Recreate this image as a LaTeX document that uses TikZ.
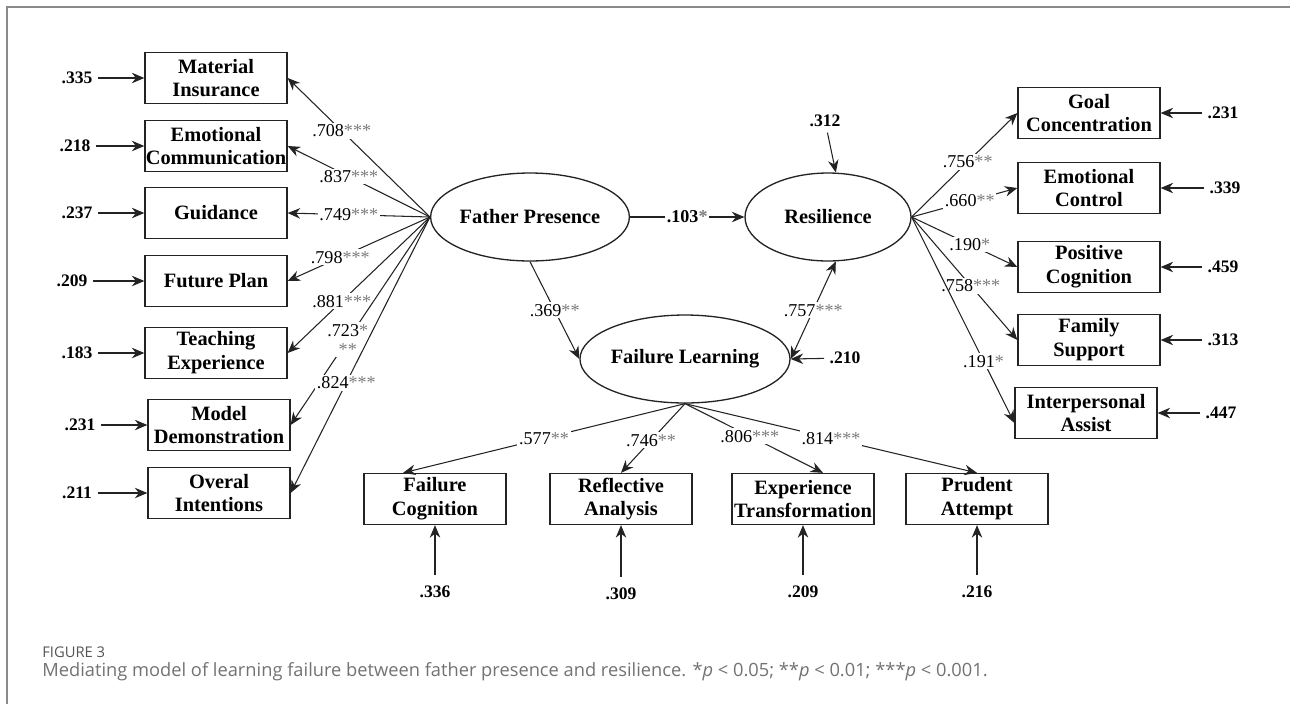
\documentclass[tikz,border=0pt]{standalone}
\usepackage{fontspec}
\setmainfont{Liberation Serif}
\newfontfamily\capfont{Open Sans}
\usepackage{xcolor}
\usetikzlibrary{arrows.meta,calc,shapes.geometric}
\definecolor{linedark}{HTML}{232323}
\definecolor{stargray}{HTML}{7C7C7C}
\definecolor{framegray}{HTML}{8A8A8A}
\definecolor{labelgray}{HTML}{555555}
\definecolor{capgray}{HTML}{727272}
\newcommand{\sig}[1]{\textcolor{stargray}{#1}}

\begin{document}
\begin{tikzpicture}[
  x=0.02cm,
  y=-0.02cm,
  obsbox/.style={draw=linedark, line width=0.75pt, minimum width=2.84cm,
    minimum height=1.02cm, inner sep=0pt, align=center,
    font=\fontsize{11.6}{13.6}\selectfont\bfseries},
  latent/.style={ellipse, draw=linedark, line width=0.75pt,
    minimum width=3.32cm, minimum height=1.76cm, inner sep=0pt,
    font=\fontsize{11.6}{13.6}\selectfont\bfseries},
  errval/.style={inner sep=3pt, font=\fontsize{10}{12}\selectfont\bfseries},
  coef/.style={fill=white, inner sep=1pt, align=center,
    font=\fontsize{10.3}{11}\selectfont},
  load/.style={-{Stealth[length=2.5mm,width=2.1mm]}, draw=linedark, line width=0.6pt},
  twoway/.style={{Stealth[length=2.5mm,width=2.1mm]}-{Stealth[length=2.5mm,width=2.1mm]},
    draw=linedark, line width=0.6pt}
]
\useasboundingbox (0,0) rectangle (1290,704);

% Frame
\draw[draw=framegray, line width=0.6pt] (7,704) -- (7,7) -- (1290,7);

% Latent variables
\node[latent] (father) at (530,217) {Father Presence};
\node[latent] (resil) at (828,217) {Resilience};
\node[latent] (faillearn) at (685,359) {Failure Learning};

% Father presence indicators
\node[obsbox] (material) at (216,78) {Material\\Insurance};
\node[obsbox] (emocomm) at (216,146) {Emotional\\Communication};
\node[obsbox] (guidance) at (216,213) {Guidance};
\node[obsbox] (future) at (216,281) {Future Plan};
\node[obsbox] (teaching) at (216,353) {Teaching\\Experience};
\node[obsbox] (model) at (219,425) {Model\\Demonstration};
\node[obsbox] (overal) at (219,493) {Overal\\Intentions};

\node[errval] (e335) at (77,78) {.335};
\node[errval] (e218) at (75,146) {.218};
\node[errval] (e237) at (77,213) {.237};
\node[errval] (e209a) at (72,281) {.209};
\node[errval] (e183) at (77,353) {.183};
\node[errval] (e231a) at (80,425) {.231};
\node[errval] (e211) at (77,493) {.211};

\draw[load] (e335) -- (material);
\draw[load] (e218) -- (emocomm);
\draw[load] (e237) -- (guidance);
\draw[load] (e209a) -- (future);
\draw[load] (e183) -- (teaching);
\draw[load] (e231a) -- (model);
\draw[load] (e211) -- (overal);

\draw[load] (father.west) -- node[coef, pos=0.62] {.708\sig{***}} (material.east);
\draw[load] (father.west) -- node[coef, pos=0.57] {.837\sig{***}} (emocomm.east);
\draw[load] (father.west) -- node[coef, pos=0.57] {.749\sig{***}} (guidance.east);
\draw[load] (father.west) -- node[coef, pos=0.63] {.798\sig{***}} (future.east);
\draw[load] (father.west) -- node[coef, pos=0.62] {.881\sig{***}} (teaching.east);
\draw[load] (father.west) -- node[coef, pos=0.59] {.723\sig{*}\\\sig{**}} (model.east);
\draw[load] (father.west) -- node[coef, pos=0.6] {.824\sig{***}} (overal.east);

% Resilience indicators
\node[obsbox] (goal) at (1089,113) {Goal\\Concentration};
\node[obsbox] (emoctrl) at (1089,188) {Emotional\\Control};
\node[obsbox] (positive) at (1089,267) {Positive\\Cognition};
\node[obsbox] (family) at (1089,340) {Family\\Support};
\node[obsbox] (interp) at (1086,413) {Interpersonal\\Assist};

\node[errval] (e231b) at (1223,113) {.231};
\node[errval] (e339) at (1225,188) {.339};
\node[errval] (e459) at (1223,267) {.459};
\node[errval] (e313) at (1223,340) {.313};
\node[errval] (e447) at (1221,413) {.447};

\draw[load] (e231b) -- (goal);
\draw[load] (e339) -- (emoctrl);
\draw[load] (e459) -- (positive);
\draw[load] (e313) -- (family);
\draw[load] (e447) -- (interp);

\draw[load] (resil.east) -- node[coef, pos=0.53] {.756\sig{**}} (goal.west);
\draw[load] (resil.east) -- node[coef, pos=0.55] {.660\sig{**}} (emoctrl.west);
\draw[load] (resil.east) -- node[coef, pos=0.55] {.190\sig{*}} (positive.west);
\draw[load] (resil.east) -- node[coef, pos=0.56] {.758\sig{***}} (family.west);
\draw[load] (resil.east) -- node[coef, pos=0.7] {.191\sig{*}} ([yshift=-0.2cm]interp.west);

% Structural paths
\draw[load] (father.east) -- node[coef, pos=0.5] {\bfseries .103\sig{*}} (resil.west);
\draw[load] (father.south) -- node[coef, pos=0.5] {.369\sig{**}} (faillearn.west);
\draw[twoway] (faillearn.east) -- node[coef, pos=0.5] {.757\sig{***}} (resil.-80);

\node[errval] (e312) at (825,121) {.312};
\node[errval] (e210) at (845,358) {.210};
\draw[load] (e312) -- (resil.80);
\draw[load] (e210) -- (faillearn.east);

% Failure learning indicators
\node[obsbox] (failcog) at (435,499) {Failure\\Cognition};
\node[obsbox] (reflect) at (621,499) {Reflective\\Analysis};
\node[obsbox] (exptrans) at (803,499) {Experience\\Transformation};
\node[obsbox] (prudent) at (977,499) {Prudent\\Attempt};

\draw[load] (faillearn.south) -- node[coef, pos=0.5] {.577\sig{**}} ([xshift=-0.64cm]failcog.north);
\draw[load] (faillearn.south) -- node[coef, pos=0.53] {.746\sig{**}} (reflect.north);
\draw[load] (faillearn.south) -- node[coef, pos=0.47] {.806\sig{***}} ([xshift=0.4cm]exptrans.north);
\draw[load] (faillearn.south) -- node[coef, pos=0.5] {.814\sig{***}} (prudent.north);

\node[errval] (e336) at (435,592) {.336};
\node[errval] (e309) at (621,594) {.309};
\node[errval] (e209b) at (803,592) {.209};
\node[errval] (e216) at (977,592) {.216};

\draw[load, shorten <=3pt] (e336) -- (failcog);
\draw[load, shorten <=3pt] (e309) -- (reflect);
\draw[load, shorten <=3pt] (e209b) -- (exptrans);
\draw[load, shorten <=3pt] (e216) -- (prudent);

% Caption
\node[anchor=west, inner sep=0pt, text=labelgray,
      font=\capfont\fontsize{8.4}{10}\selectfont] (figlabel) at (42,652) {FIGURE 3};
\node[anchor=west, inner sep=0pt, text=capgray,
      font=\capfont\fontsize{10.4}{12}\selectfont] (caption) at (42,672)
      {Mediating model of learning failure between father presence and resilience.
       *\textit{p} < 0.05; **\textit{p} < 0.01; ***\textit{p} < 0.001.};
\end{tikzpicture}
\end{document}
